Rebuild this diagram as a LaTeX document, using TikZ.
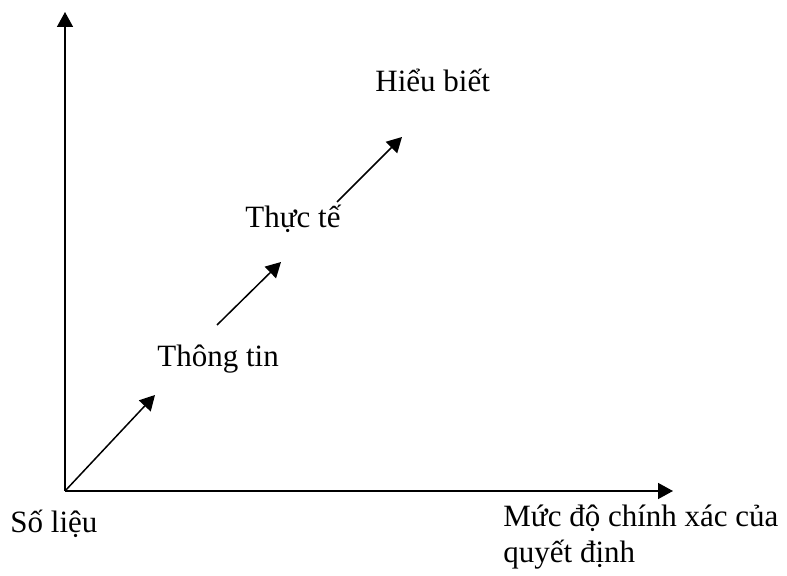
\documentclass[tikz,border=0pt]{standalone}
\usepackage{fontspec}
\setmainfont{Liberation Serif}
\usetikzlibrary{arrows.meta}

\begin{document}
\begin{tikzpicture}[x=0.5pt, y=-0.5pt,
        font=\fontsize{15.5}{18}\selectfont,
        lb/.style={inner sep=0pt, anchor=base west, align=left},
        fl/.style={-{Triangle[length=7.5pt, width=8pt]}, line width=0.75pt}]
        \useasboundingbox (0,0) rectangle (787,576);
        % axes and steps
        \coordinate (o) at (65,491);
        \coordinate (yt) at (65,12);
        \coordinate (xt) at (673,491);
        \coordinate (a1) at (155,395);
        \coordinate (b0) at (217,325);
        \coordinate (b1) at (281,262);
        \coordinate (c0) at (337,202);
        \coordinate (c1) at (402,137);
        \foreach \x/\y in {o/yt, o/xt, o/a1, b0/b1, c0/c1} \draw[fl] (\x) -- (\y);
        % labels (base of the two-line one is its last line)
        \node[lb] (sl) at (10,533) {Số liệu};
        \node[lb] (tt) at (157,367) {Thông tin};
        \node[lb] (tf) at (245,228) {Thực tế};
        \node[lb] (hb) at (375,92) {Hiểu biết};
        \node[lb] (md) at (503,563) {Mức độ chính xác của\\quyết định};
    \end{tikzpicture}
\end{document}
